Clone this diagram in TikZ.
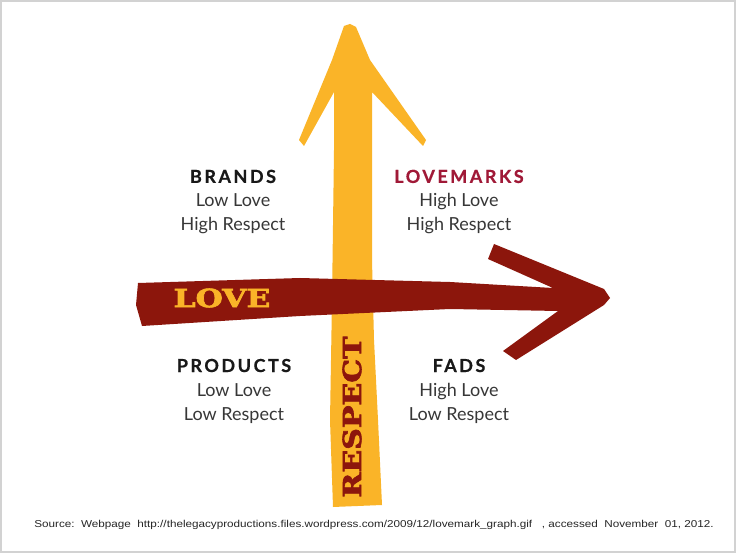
\documentclass[tikz,border=0pt]{standalone}
\usepackage{fontspec}
\usepackage{xcolor}
\setmainfont{Lato}
\newfontfamily\slabfont[FakeBold=2.5]{DejaVu Serif}
\newfontfamily\srcfont{Liberation Sans}
\newcommand\quadhead{\bfseries\addfontfeature{LetterSpace=14,FakeBold=0.6}\color{black!90}}
\definecolor{respectyellow}{RGB}{250,180,40}
\definecolor{lovered}{RGB}{140,22,12}
\definecolor{markred}{RGB}{160,25,55}
\definecolor{labelgray}{RGB}{55,55,55}
\definecolor{framegray}{RGB}{210,210,210}

\begin{document}
\begin{tikzpicture}[x=1pt,y=-1pt,%
      quad/.style={align=center, text=labelgray, font=\fontsize{18}{24}\selectfont},
      axislabel/.style={font=\slabfont\bfseries\fontsize{25}{25}\selectfont, inner sep=0pt, transform shape}]
      \useasboundingbox (0,0) rectangle (736,553);
      \fill[white] (0,0) rectangle (736,553);
      \draw[framegray, line width=2pt] (1,1) rectangle (735,552);
      % respect axis
      \fill[respectyellow] (350,24) -- (356,27) -- (370,60) -- (426,140) -- (423,146)
        -- (372,92) -- (372,260) -- (374,340) -- (378,420) -- (382,505) -- (333,507)
        -- (330,420) -- (332,300) -- (334,150) -- (334,92) -- (304,146) -- (299,140)
        -- (332,60) -- (344,26) -- cycle;
      % love axis
      \fill[lovered] (138,283) -- (300,278) -- (450,282) -- (553,288) -- (488,259)
        -- (494,244) -- (604,289) -- (610,298) -- (604,305) -- (516,360) -- (503,351)
        -- (558,311) -- (450,309) -- (300,316) -- (142,326) -- (136,305) -- cycle;
      \node[axislabel, text=respectyellow, xscale=1.25] (love) at (222,298) {LOVE};
      \node[axislabel, text=lovered, rotate=90, xscale=1.2] (respect) at (352,417) {RESPECT};
      % quadrants
      \node[quad] (brands) at (233,202) {{\quadhead BRANDS}\\Low Love\\High Respect};
      \node[quad] (lovemarks) at (459,202) {{\quadhead\color{markred}LOVEMARKS}\\High Love\\High Respect};
      \node[quad] (products) at (234,391) {{\quadhead PRODUCTS}\\Low Love\\Low Respect};
      \node[quad] (fads) at (459,391) {{\quadhead FADS}\\High Love\\Low Respect};
      \node[font=\srcfont\fontsize{10}{12}\selectfont, text=black!85, xscale=1.17, transform shape] (source) at (374,525)
        {Source:\ \ Webpage\ \ http://thelegacyproductions.files.wordpress.com/2009/12/lovemark\_graph.gif\ \ \ ,\ accessed\ \ November\ \ 01,\ 2012.};
\end{tikzpicture}
\end{document}
